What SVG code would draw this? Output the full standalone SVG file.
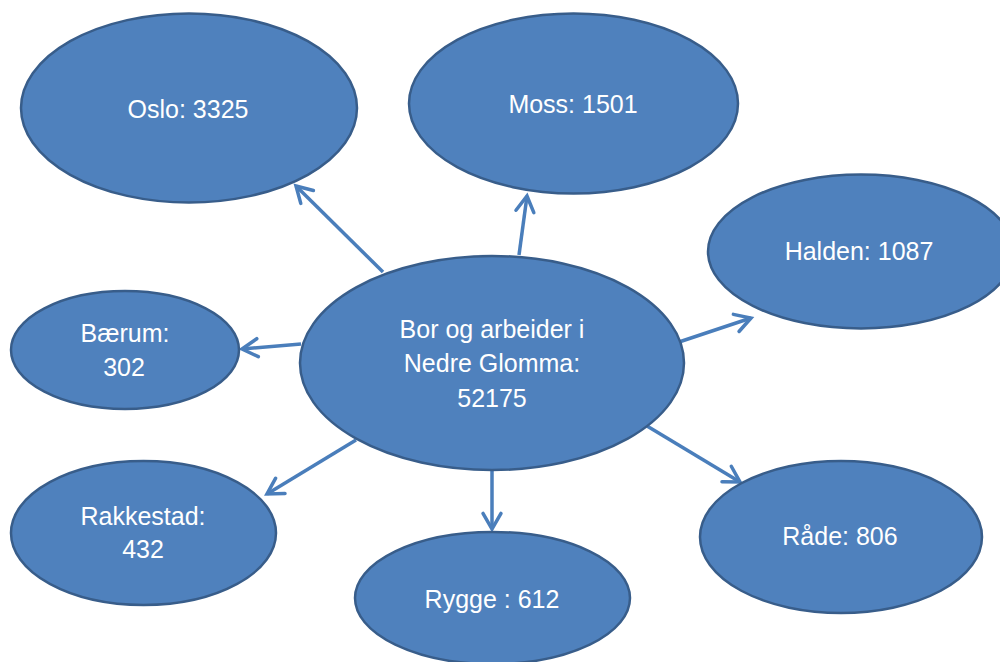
<svg xmlns="http://www.w3.org/2000/svg" width="1000" height="662" viewBox="0 0 1000 662">
<style>
.node ellipse{fill:#4f81bd;stroke:#385d8a;stroke-width:2.5}
.node text{fill:#ffffff;font-family:"Liberation Sans",Arial,sans-serif;font-size:25px;text-anchor:middle}
.edges line{stroke:#4a7ebb;stroke-width:3.5;fill:none}
</style>
<defs>
<marker id="arr" markerUnits="userSpaceOnUse" markerWidth="30" markerHeight="30" viewBox="-20 -15 30 30" refX="0" refY="0" orient="auto" overflow="visible">
<path d="M-15.6,-9 L0,0 L-15.6,9" fill="none" stroke="#4a7ebb" stroke-width="3.5" stroke-linecap="round" stroke-linejoin="miter"/>
</marker>
</defs>
<rect width="1000" height="662" fill="#ffffff"/>
<g class="edges">
<line x1="383" y1="272" x2="296" y2="186" marker-end="url(#arr)"/>
<line x1="519" y1="255" x2="527" y2="196" marker-end="url(#arr)"/>
<line x1="679" y1="342" x2="751" y2="318" marker-end="url(#arr)"/>
<line x1="301" y1="344" x2="242" y2="349" marker-end="url(#arr)"/>
<line x1="356" y1="440" x2="267" y2="494" marker-end="url(#arr)"/>
<line x1="492" y1="470" x2="492" y2="529" marker-end="url(#arr)"/>
<line x1="647" y1="426" x2="740" y2="482" marker-end="url(#arr)"/>
</g>
<g id="oslo" class="node">
<ellipse cx="189" cy="108" rx="168" ry="94.5"/>
<text x="188" y="118">Oslo: 3325</text>
</g>
<g id="moss" class="node">
<ellipse cx="573.5" cy="103.5" rx="164.5" ry="90"/>
<text x="573" y="113">Moss: 1501</text>
</g>
<g id="halden" class="node">
<ellipse cx="861" cy="251.5" rx="153" ry="77"/>
<text x="859" y="260">Halden: 1087</text>
</g>
<g id="baerum" class="node">
<ellipse cx="125" cy="350" rx="114" ry="59"/>
<text x="125" y="342">Bærum:</text>
<text x="124" y="376">302</text>
</g>
<g id="center" class="node">
<ellipse cx="492" cy="363" rx="192" ry="107"/>
<text x="492" y="338">Bor og arbeider i</text>
<text x="492" y="372">Nedre Glomma:</text>
<text x="492" y="407">52175</text>
</g>
<g id="rakkestad" class="node">
<ellipse cx="143.5" cy="533" rx="132.5" ry="72"/>
<text x="143" y="525">Rakkestad:</text>
<text x="143" y="558">432</text>
</g>
<g id="rygge" class="node">
<ellipse cx="492.5" cy="598" rx="137.5" ry="66"/>
<text x="492" y="608">Rygge : 612</text>
</g>
<g id="rade" class="node">
<ellipse cx="841" cy="537" rx="141" ry="76"/>
<text x="840" y="545">Råde: 806</text>
</g>
</svg>
